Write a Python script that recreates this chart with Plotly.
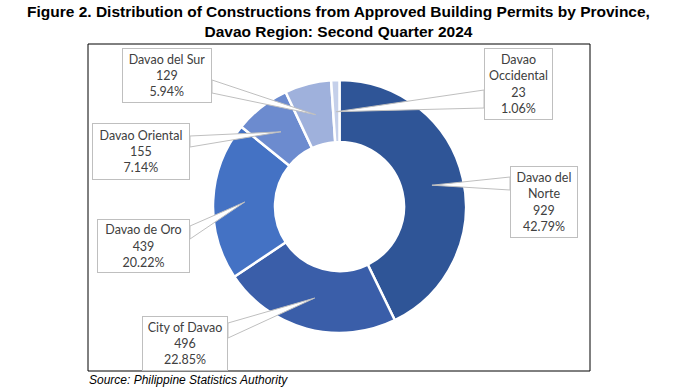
import math
import plotly.graph_objects as go

# ---------------- data ----------------
provinces = ["Davao del Norte", "City of Davao", "Davao de Oro",
             "Davao Oriental", "Davao del Sur", "Davao Occidental"]
label_text = ["Davao del<br>Norte", "City of Davao", "Davao de Oro",
              "Davao Oriental", "Davao del Sur", "Davao<br>Occidental"]
permits = [929, 496, 439, 155, 129, 23]
shares = ["42.79%", "22.85%", "20.22%", "7.14%", "5.94%", "1.06%"]
colors = ["#2F5597", "#3A5EA9", "#4472C4", "#6C8BCF", "#9FB1DC", "#C5D0EA"]

W, H = 677, 388

# donut geometry (pixels)
CX, CY, R = 339.5, 206.5, 126.5
HOLE = 0.51

# callout boxes: (x0, y0, x1, y1) in pixels, and wedge base (x, ya, yb)
boxes = [
    (510, 166, 578, 238),
    (142, 316, 228, 371),
    (97, 219, 190, 273),
    (92, 123, 190, 180),
    (122, 48, 212, 103),
    (484, 48, 553, 120),
]
bases = [
    (510, 177, 190),
    (228, 323, 338),
    (190, 226, 239),
    (190, 136, 147),
    (212, 80, 93),
    (484, 90, 108),
]


def px(x):
    return x / W


def py(y):
    return 1 - y / H


fig = go.Figure()
fig.add_trace(go.Pie(
    labels=provinces,
    values=permits,
    hole=HOLE,
    sort=False,
    direction="clockwise",
    rotation=0,
    textinfo="none",
    marker=dict(colors=colors, line=dict(color="white", width=2.5)),
    domain=dict(x=[px(CX - R), px(CX + R)], y=[py(CY + R), py(CY - R)]),
    showlegend=False,
))

shapes = []
annotations = []
total = sum(permits)
cum = 0
for i, v in enumerate(permits):
    mid = (cum + v / 2) / total
    cum += v
    ang = mid * 2 * math.pi
    tx = CX + 0.75 * R * math.sin(ang)
    ty = CY - 0.75 * R * math.cos(ang)
    bx, ya, yb = bases[i]
    path = (f"M {px(bx)} {py(ya)} L {px(tx)} {py(ty)} L {px(bx)} {py(yb)} Z")
    shapes.append(dict(type="path", xref="paper", yref="paper", path=path,
                       fillcolor="white", line=dict(color="#BFBFBF", width=1),
                       layer="above"))
    x0, y0, x1, y1 = boxes[i]
    annotations.append(dict(
        x=px((x0 + x1) / 2), y=py((y0 + y1) / 2), xref="paper", yref="paper",
        xanchor="center", yanchor="middle", showarrow=False,
        text=f"{label_text[i]}<br>{permits[i]}<br>{shares[i]}",
        align="center", valign="middle",
        width=x1 - x0 - 4, height=y1 - y0 - 4, borderpad=1,
        bgcolor="white", bordercolor="#BFBFBF", borderwidth=1,
        font=dict(family="Lato, Liberation Sans, sans-serif", size=12.5,
                  color="#404040"),
    ))

# frame
shapes.insert(0, dict(type="rect", xref="paper", yref="paper",
                      x0=px(88), x1=px(590), y0=py(371), y1=py(44),
                      line=dict(color="black", width=1), layer="below"))

annotations.append(dict(
    x=0.5, y=py(1), xref="paper", yref="paper", xanchor="center",
    yanchor="top", showarrow=False,
    text="<b>Figure 2. Distribution of Constructions from Approved Building Permits by Province,<br>Davao Region: Second Quarter 2024</b>",
    font=dict(family="Liberation Sans, Arial, sans-serif",
              size=15.5, color="black"),
))
annotations.append(dict(
    x=px(87), y=py(380), xref="paper", yref="paper", xanchor="left",
    yanchor="middle", showarrow=False,
    text="<i>Source: Philippine Statistics Authority</i>",
    font=dict(family="Liberation Sans, Arial, sans-serif", size=12,
              color="black"),
))

fig.update_layout(
    width=W, height=H,
    margin=dict(l=0, r=0, t=0, b=0),
    paper_bgcolor="white", plot_bgcolor="white",
    shapes=shapes, annotations=annotations,
)

fig.write_html("out.html",
               config={"displayModeBar": False},
               post_script="document.body.style.margin='0';document.body.style.padding='0';")
